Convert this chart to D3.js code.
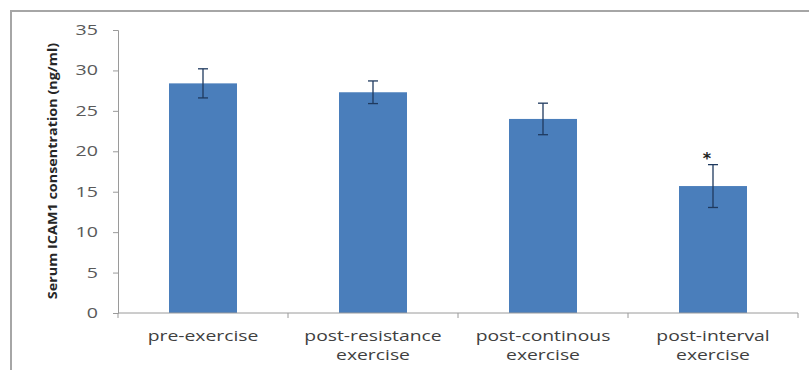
<!DOCTYPE html>
<html><head><meta charset="utf-8">
<script src="https://cdn.jsdelivr.net/npm/d3@7"></script>
<style>body{margin:0;background:#fff}svg{display:block}</style>
</head><body>
<script>
const categories = [["pre-exercise"], ["post-resistance", "exercise"], ["post-continous", "exercise"], ["post-interval", "exercise"]];
const values = [28.4, 27.3, 24.0, 15.7];
const errors = [1.8, 1.4, 1.95, 2.65];
const markers = ["", "", "", "*"];
const yTicks = [0, 5, 10, 15, 20, 25, 30, 35];
const yLabel = "Serum ICAM1 consentration (ng/ml)";

const W = 809, H = 370;
const svg = d3.select("body").append("svg").attr("width", W).attr("height", H);
svg.append("rect").attr("width", W).attr("height", H).attr("fill", "#fff");
// outer frame (top and left visible)
svg.append("line").attr("x1", 10).attr("x2", W).attr("y1", 11).attr("y2", 11).attr("stroke", "#a6a6a6").attr("stroke-width", 2);
svg.append("line").attr("x1", 11).attr("x2", 11).attr("y1", 10).attr("y2", H).attr("stroke", "#a6a6a6").attr("stroke-width", 2);

const x0 = 118, x1 = 798, yTop = 30, yBot = 313;
const x = d3.scaleBand().domain(d3.range(categories.length)).range([x0, x1]).paddingInner(0.6).paddingOuter(0.3);
const y = d3.scaleLinear().domain([0, 35]).range([yBot, yTop]);

// bars
svg.selectAll("rect.bar").data(values).join("rect").attr("class", "bar")
  .attr("x", (d, i) => x(i)).attr("width", x.bandwidth())
  .attr("y", d => y(d)).attr("height", d => y(0) - y(d))
  .attr("fill", "#4a7ebb");

// error bars
const eg = svg.append("g").attr("stroke", "#1f3a5f").attr("stroke-width", 1.3);
values.forEach((v, i) => {
  const cx = x(i) + x.bandwidth() / 2;
  eg.append("line").attr("x1", cx).attr("x2", cx).attr("y1", y(v + errors[i])).attr("y2", y(v - errors[i]));
  eg.append("line").attr("x1", cx - 5).attr("x2", cx + 5).attr("y1", y(v + errors[i])).attr("y2", y(v + errors[i]));
  eg.append("line").attr("x1", cx - 5).attr("x2", cx + 5).attr("y1", y(v - errors[i])).attr("y2", y(v - errors[i]));
  if (markers[i]) {
    svg.append("text").attr("x", cx - 6).attr("y", y(v + errors[i]) - 1)
      .attr("text-anchor", "middle").attr("font-family", "DejaVu Sans").attr("font-weight", "bold")
      .attr("font-size", 16).attr("fill", "#222").text(markers[i]);
  }
});

// y axis
const yAxis = d3.axisLeft(y).tickValues(yTicks).tickSize(5).tickPadding(8);
const gy = svg.append("g").attr("transform", `translate(${x0},0)`).call(yAxis);
gy.select(".domain").attr("stroke", "#9a9a9a");
gy.selectAll(".tick line").attr("stroke", "#9a9a9a");
gy.selectAll(".tick text").attr("x", 0).attr("transform", "translate(-20,0) scale(1.4,1)")
  .attr("font-family", "Open Sans").attr("font-size", 14).attr("fill", "#595959");

// x axis
const gx = svg.append("g").attr("transform", `translate(0,${yBot})`);
gx.append("line").attr("x1", x0).attr("x2", x1).attr("stroke", "#9a9a9a");
const bounds = d3.range(categories.length + 1).map(i => x0 + (x1 - x0) * i / categories.length);
gx.selectAll("line.tk").data(bounds).join("line").attr("class", "tk")
  .attr("x1", d => d).attr("x2", d => d).attr("y1", 0).attr("y2", 5).attr("stroke", "#9a9a9a");
categories.forEach((lines, i) => {
  const cx = x(i) + x.bandwidth() / 2;
  lines.forEach((l, j) => {
    gx.append("text").attr("transform", `translate(${cx},${28 + j * 19}) scale(1.38,1)`)
      .attr("text-anchor", "middle").attr("font-family", "Open Sans")
      .attr("font-size", 14).attr("fill", "#404040").text(l);
  });
});

// y label
svg.append("text").attr("transform", `translate(57,${171}) rotate(-90) scale(1.15,1)`)
  .attr("text-anchor", "middle").attr("font-family", "Open Sans").attr("font-weight", "bold")
  .attr("font-size", 12.5).attr("fill", "#262626").text(yLabel);
</script>
</body></html>
